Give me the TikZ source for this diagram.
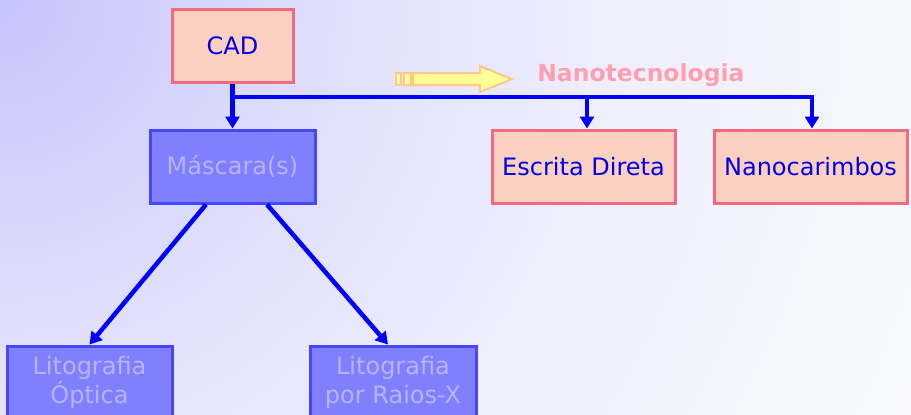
\documentclass[tikz,border=0pt]{standalone}
\usepackage{fontspec}
\setmainfont{DejaVu Sans}
\usetikzlibrary{arrows.meta, positioning}
\definecolor{bglav}{RGB}{196,196,252}
\definecolor{bgmid}{RGB}{224,224,252}
\definecolor{bgfar}{RGB}{238,238,253}
\definecolor{bgend}{RGB}{250,250,255}
\definecolor{pinkfill}{RGB}{252,208,192}
\definecolor{pinkline}{RGB}{240,107,128}
\definecolor{maskfill}{RGB}{128,128,255}
\definecolor{maskline}{RGB}{70,70,255}
\definecolor{masktext}{RGB}{180,180,255}
\definecolor{nanopink}{RGB}{255,160,176}
\definecolor{yelfill}{RGB}{255,255,150}
\definecolor{yelline}{RGB}{255,200,136}
\pgfdeclareradialshading{bgfade}{\pgfpoint{0bp}{0bp}}{color(0bp)=(bglav); color(8.5bp)=(bgmid); color(15bp)=(bgfar); color(26bp)=(bgend); color(50bp)=(bgend)}

\begin{document}
\begin{tikzpicture}[x=1pt,y=-1pt,->,>={Triangle[length=12pt,width=14pt]},draw=blue,line width=4.5pt]
    \tikzstyle{box}=[rectangle, line width=3pt, inner sep=0pt, minimum height=73pt, align=center, font=\fontsize{24}{29.5}\selectfont]
    \tikzstyle{pink box}=[box, draw=pinkline, fill=pinkfill, text=blue!90!black]
    \tikzstyle{mask box}=[box, draw=maskline, fill=maskfill, text=masktext]

    % background
    \useasboundingbox (0,0) rectangle (911,415);
    \begin{scope}
        \clip (0,0) rectangle (911,415);
        \shade[shading=bgfade] (-1000,-1000) rectangle (1000,1000);
    \end{scope}

    \node[pink box, minimum width=121pt] (cad) at (232.5,46) {CAD};
    \node[mask box, minimum width=165pt] (mask) at (232.5,166.5) {Máscara(s)};
    \node[pink box, minimum width=183pt] (direct) at (583.5,166.5) {Escrita Direta};
    \node[pink box, minimum width=193pt] (stamp) at (810.5,166.5) {Nanocarimbos};
    \node[mask box, minimum width=165pt] (optic) at (89.5,382.5) {Litografia\\Óptica};
    \node[mask box, minimum width=166pt] (xray) at (393,382.5) {Litografia\\por Raios-X};

    \coordinate (split) at (232.5,97);
    \path (cad) edge (mask);
    \draw (split) -| ([xshift=3.5pt]direct.north);
    \draw (split) -| ([xshift=1.5pt]stamp.north);
    \draw ([xshift=-26.5pt]mask.south) -- (optic.north);
    \draw ([xshift=34.5pt]mask.south) -- ([xshift=-5pt]xray.north);

    % yellow arrow
    \begin{scope}[-, draw=yelline, fill=yelfill, line width=2pt]
        \filldraw (396,73) rectangle (401,85);
        \filldraw (404,73) rectangle (411,85);
        \filldraw (413,73) -- (480,73) -- (480,66) -- (512,79) -- (480,92) -- (480,85) -- (413,85) -- cycle;
    \end{scope}
    \node[text=nanopink, font=\fontsize{23.5}{28}\selectfont\bfseries, anchor=west, inner sep=0pt] (nano) at (535,75) {Nanotecnologia};
\end{tikzpicture}
\end{document}
